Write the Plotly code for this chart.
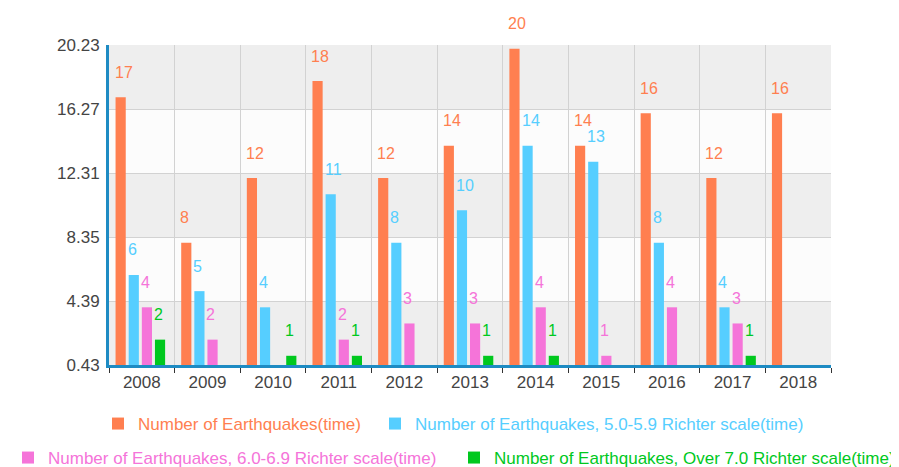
import plotly.graph_objects as go

years = ["2008", "2009", "2010", "2011", "2012", "2013", "2014", "2015", "2016", "2017", "2018"]
total = [17, 8, 12, 18, 12, 14, 20, 14, 16, 12, 16]
mag5 = [6, 5, 4, 11, 8, 10, 14, 13, 8, 4, 0]
mag6 = [4, 2, 0, 2, 3, 3, 4, 1, 4, 3, 0]
mag7 = [2, 0, 1, 1, 0, 1, 1, 0, 0, 1, 0]
y_ticks = [0.43, 4.39, 8.35, 12.31, 16.27, 20.23]

names = ["Number of Earthquakes(time)",
         "Number of Earthquakes, 5.0-5.9 Richter scale(time)",
         "Number of Earthquakes, 6.0-6.9 Richter scale(time)",
         "Number of Earthquakes, Over 7.0 Richter scale(time)"]
colors = ["#FF7F50", "#56CEFF", "#F574D9", "#00C81E"]
series = [total, mag5, mag6, mag7]
offsets = [-0.40, -0.20, 0.0, 0.20]
legend_ids = ["legend", "legend2", "legend3", "legend4"]
# legend box positions (left x px, centre y px) in figure pixels
legend_pos = [(90, 416), (367, 416), (0, 450), (446, 450)]
bar_w = 0.155

W, H = 891, 459
FONT = "Liberation Sans, Arial"

fig = go.Figure()
annotations = []
for s, name, col, off, lg in zip(series, names, colors, offsets, legend_ids):
    fig.add_trace(go.Bar(
        x=years, y=s, width=bar_w, offset=off,
        marker=dict(color=col, line=dict(width=0)),
        name=f"<span style='color:{col}'>{name}</span>",
        legend=lg, showlegend=True,
    ))
    for i, v in enumerate(s):
        if v:
            annotations.append(dict(
                x=i + off, y=v, xref="x", yref="y", text=str(v),
                showarrow=False, xanchor="left", yanchor="middle",
                yshift=25, xshift=-3,
                font=dict(color=col, size=16, family=FONT),
            ))

shapes = []
band_fill = ["#eeeeee", "#fcfcfc", "#eeeeee", "#fcfcfc", "#eeeeee"]
for k in range(len(y_ticks) - 1):
    shapes.append(dict(type="rect", xref="paper", yref="y", x0=0, x1=1,
                       y0=y_ticks[k], y1=y_ticks[k + 1],
                       fillcolor=band_fill[k], line=dict(width=0), layer="below"))

legend_cfg = {}
for lg, (lx, ly) in zip(legend_ids, legend_pos):
    legend_cfg[lg] = dict(orientation="h", x=lx / W, xanchor="left", xref="container",
                          y=(H - ly) / H, yanchor="middle", yref="container",
                          font=dict(size=17), bgcolor="rgba(0,0,0,0)")

fig.update_layout(
    width=W, height=H,
    showlegend=True,
    margin=dict(l=101, r=68, t=37, b=102, autoexpand=False),
    paper_bgcolor="white", plot_bgcolor="white",
    barmode="overlay",
    font=dict(family=FONT, color="#444"),
    annotations=annotations,
    shapes=shapes,
    **legend_cfg,
)

fig.update_xaxes(
    type="category", range=[-0.5, 10.5], tickangle=0,
    tickson="boundaries", ticks="outside", ticklen=5, tickcolor="#333",
    showgrid=True, gridcolor="#d2d2d2", gridwidth=1,
    showline=True, linecolor="#1E8BC3", linewidth=3,
    tickfont=dict(size=17, color="#444"),
)
fig.update_yaxes(
    range=[0.43, 20.23], tickvals=y_ticks,
    ticktext=[f"{v:.2f}" for v in y_ticks],
    showgrid=True, gridcolor="#d2d2d2", gridwidth=1,
    showline=True, linecolor="#1E8BC3", linewidth=3,
    zeroline=False, ticks="", ticklabelstandoff=3,
    tickfont=dict(size=17, color="#444"),
)

fig.write_html("out.html")
